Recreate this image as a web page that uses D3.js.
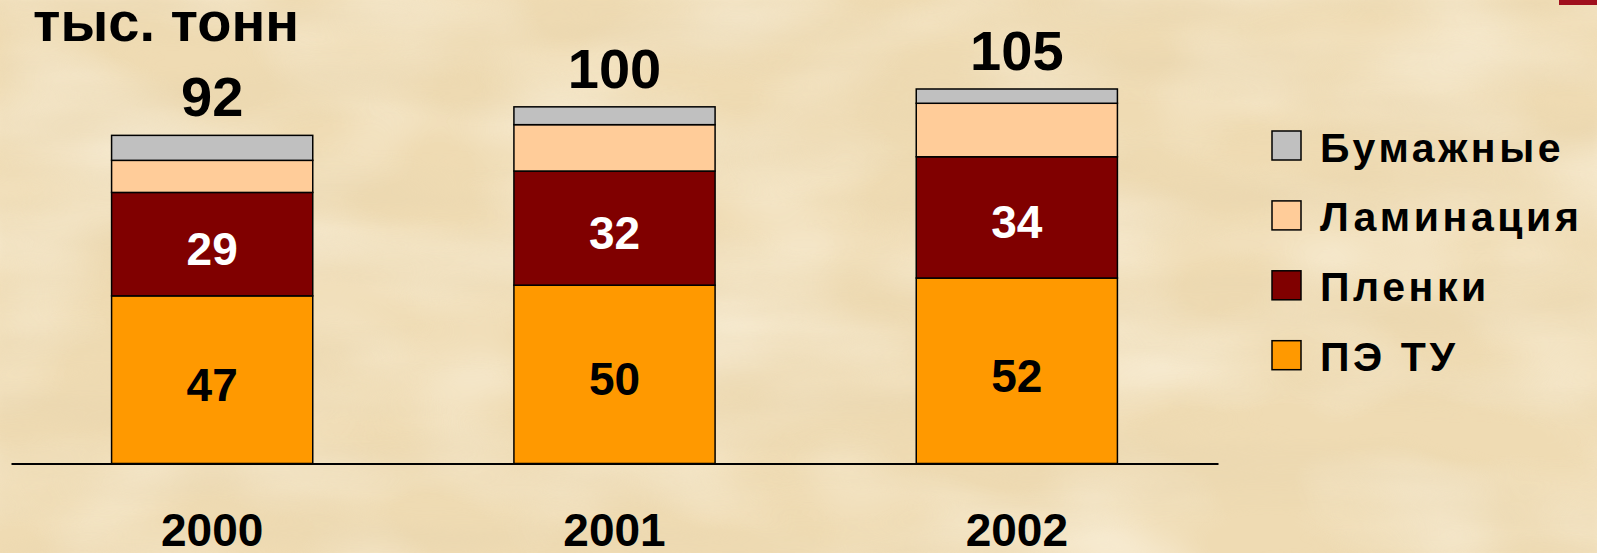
<!DOCTYPE html>
<html>
<head>
<meta charset="utf-8">
<script src="https://cdn.jsdelivr.net/npm/d3@7"></script>
<style>
  html, body { margin: 0; padding: 0; background: #f0dcb4; }
  svg { display: block; }
  text { font-family: "Liberation Sans", Arial, sans-serif; font-weight: bold; }
</style>
</head>
<body>
<svg id="chart" width="1597" height="553"></svg>
<script>
// ---- data ----
const years = ["2000", "2001", "2002"];
const seriesNames = ["ПЭ ТУ", "Пленки", "Ламинация", "Бумажные"];
const peTU = [47, 50, 52];
const plenki = [29, 32, 34];
const laminatsiya = [9, 13, 15];
const bumazhnye = [7, 5, 4];
const totals = [92, 100, 105];
const unitLabel = "тыс. тонн";
const legendOrder = ["Бумажные", "Ламинация", "Пленки", "ПЭ ТУ"];

const colors = {
  "ПЭ ТУ": "#ff9900",
  "Пленки": "#800000",
  "Ламинация": "#ffcc99",
  "Бумажные": "#c0c0c0"
};
const labelColors = { "ПЭ ТУ": "#000", "Пленки": "#fff" };

const W = 1597, H = 553;
const svg = d3.select("#chart");

// ---- parchment background ----
const defs = svg.append("defs");
const f = defs.append("filter").attr("id", "parch").attr("x", 0).attr("y", 0).attr("width", "100%").attr("height", "100%");
f.append("feTurbulence").attr("type", "fractalNoise").attr("baseFrequency", "0.003 0.018").attr("numOctaves", 3).attr("seed", 7).attr("result", "n");
f.append("feColorMatrix").attr("in", "n").attr("type", "matrix")
  .attr("values", "0 0 0 0 0.80  0 0 0 0 0.66  0 0 0 0 0.42  1.6 0 0 0 -0.55")
  .attr("result", "c");
f.append("feGaussianBlur").attr("in", "c").attr("stdDeviation", "3 1.5");
const f2 = defs.append("filter").attr("id", "parch2").attr("x", 0).attr("y", 0).attr("width", "100%").attr("height", "100%");
f2.append("feTurbulence").attr("type", "fractalNoise").attr("baseFrequency", "0.006 0.01").attr("numOctaves", 2).attr("seed", 3).attr("result", "n");
f2.append("feColorMatrix").attr("in", "n").attr("type", "matrix")
  .attr("values", "0 0 0 0 1  0 0 0 0 0.96  0 0 0 0 0.86  1.6 0 0 0 -0.6");
svg.append("rect").attr("width", W).attr("height", H).attr("fill", "#efdbb3");
svg.append("rect").attr("width", W).attr("height", H).attr("filter", "url(#parch2)").attr("opacity", 0.7);
svg.append("rect").attr("width", W).attr("height", H).attr("filter", "url(#parch)").attr("opacity", 0.55);

// top-right accent
svg.append("rect").attr("x", 1559).attr("y", 0).attr("width", 38).attr("height", 5).attr("fill", "#a0101e");

// ---- scales ----
const x = d3.scaleBand().domain(years).range([11, 1218]).paddingInner(0.5).paddingOuter(0.25);
const y = d3.scaleLinear().domain([0, 105]).range([463.5, 89]);

const rows = years.map((yr, i) => ({
  year: yr,
  "ПЭ ТУ": peTU[i], "Пленки": plenki[i], "Ламинация": laminatsiya[i], "Бумажные": bumazhnye[i],
  total: totals[i]
}));
const stacked = d3.stack().keys(seriesNames)(rows);

// ---- bars ----
const layers = svg.append("g").selectAll("g").data(stacked).join("g")
  .attr("fill", d => colors[d.key]);
layers.selectAll("rect").data(d => d).join("rect")
  .attr("x", d => x(d.data.year))
  .attr("width", x.bandwidth())
  .attr("y", d => y(d[1]))
  .attr("height", d => y(d[0]) - y(d[1]))
  .attr("stroke", "#000").attr("stroke-width", 1.5);

// segment labels
stacked.filter(s => labelColors[s.key]).forEach(s => {
  svg.append("g").selectAll("text").data(s).join("text")
    .attr("x", d => x(d.data.year) + x.bandwidth() / 2)
    .attr("y", d => (y(d[0]) + y(d[1])) / 2 + 21)
    .attr("text-anchor", "middle")
    .attr("font-size", 46)
    .attr("fill", labelColors[s.key])
    .text(d => d[1] - d[0]);
});

// totals
svg.append("g").selectAll("text").data(rows).join("text")
  .attr("x", d => x(d.year) + x.bandwidth() / 2)
  .attr("y", d => y(d.total) - 19)
  .attr("text-anchor", "middle")
  .attr("font-size", 56)
  .attr("fill", "#000")
  .text(d => d.total);

// ---- axis ----
const axis = svg.append("g").attr("transform", `translate(0,${y(0)})`)
  .call(d3.axisBottom(x).tickSize(0).tickPadding(50));
axis.select(".domain").attr("stroke", "#000").attr("stroke-width", 2.2);
axis.selectAll("text").attr("font-size", 46).attr("fill", "#000")
  .attr("font-family", "'Liberation Sans', Arial, sans-serif").attr("font-weight", "bold");

// unit label
svg.append("text").attr("x", 33).attr("y", 40.5).attr("font-size", 56).attr("fill", "#000").text(unitLabel);

// ---- legend ----
const lg = svg.append("g").attr("transform", "translate(1272,131)");
const li = lg.selectAll("g").data(legendOrder).join("g")
  .attr("transform", (d, i) => `translate(0,${i * 69.9})`);
li.append("rect").attr("width", 29).attr("height", 29)
  .attr("fill", d => colors[d]).attr("stroke", "#000").attr("stroke-width", 1.5);
li.append("text").attr("x", 48).attr("y", 30.5)
  .attr("font-size", 41).attr("letter-spacing", 3.6).attr("fill", "#000")
  .text(d => d);
</script>
</body>
</html>
